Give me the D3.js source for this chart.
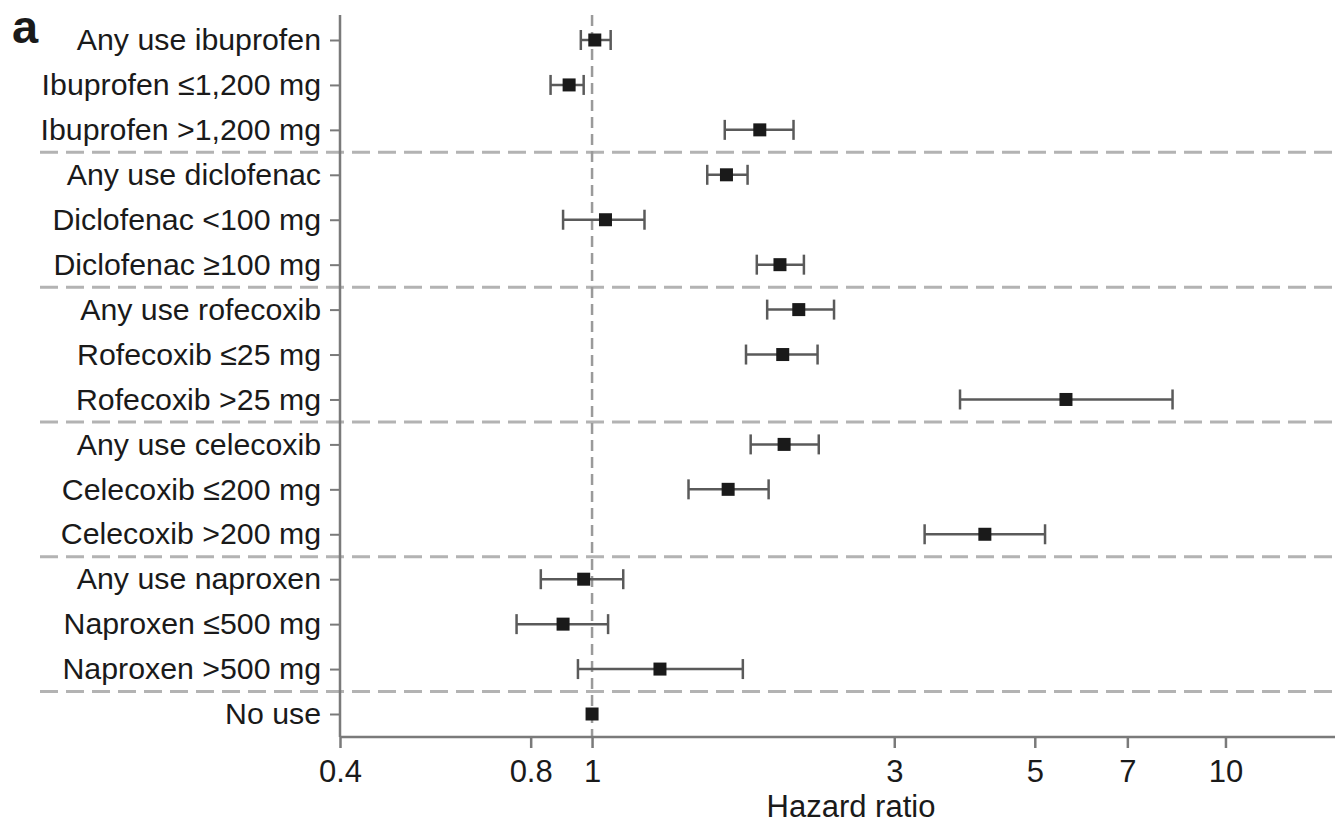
<!DOCTYPE html>
<html>
<head>
<meta charset="utf-8">
<script src="https://cdn.jsdelivr.net/npm/d3@7"></script>
<style>
  body { margin: 0; background: #fff; }
  svg { font-family: "Liberation Sans", Arial, Helvetica, sans-serif; }
</style>
</head>
<body>
<div id="chart"></div>
<script>
// rows, top to bottom
const labels = [
  "Any use ibuprofen", "Ibuprofen \u22641,200 mg", "Ibuprofen >1,200 mg",
  "Any use diclofenac", "Diclofenac <100 mg", "Diclofenac \u2265100 mg",
  "Any use rofecoxib", "Rofecoxib \u226425 mg", "Rofecoxib >25 mg",
  "Any use celecoxib", "Celecoxib \u2264200 mg", "Celecoxib >200 mg",
  "Any use naproxen", "Naproxen \u2264500 mg", "Naproxen >500 mg",
  "No use"
];
const groups = [
  "ibuprofen", "ibuprofen", "ibuprofen",
  "diclofenac", "diclofenac", "diclofenac",
  "rofecoxib", "rofecoxib", "rofecoxib",
  "celecoxib", "celecoxib", "celecoxib",
  "naproxen", "naproxen", "naproxen",
  "none"
];
const hazard = [1.01, 0.92, 1.84, 1.63, 1.05, 1.98, 2.12, 2.00, 5.60, 2.01, 1.64, 4.17, 0.97, 0.90, 1.28, 1.00];
const lower  = [0.96, 0.86, 1.62, 1.52, 0.90, 1.82, 1.89, 1.75, 3.81, 1.78, 1.42, 3.35, 0.83, 0.76, 0.95, null];
const upper  = [1.07, 0.97, 2.08, 1.76, 1.21, 2.16, 2.41, 2.27, 8.25, 2.28, 1.90, 5.19, 1.12, 1.06, 1.73, null];
const xTicks = [0.4, 0.8, 1, 3, 5, 7, 10];

const rows = labels.map((l, i) => ({ label: l, group: groups[i], hr: hazard[i], lo: lower[i], hi: upper[i] }));

const W = 1335, H = 825;
const svg = d3.select("#chart").append("svg")
  .attr("width", W).attr("height", H);

const x = d3.scaleLog().domain([0.4, 15]).range([340, 1337]);
const y = d3.scalePoint().domain(labels).range([40, 714]);
const axisY = 737;

// group dividers
const breaks = [];
for (let i = 1; i < rows.length; i++) {
  if (rows[i].group !== rows[i - 1].group) breaks.push((y(labels[i - 1]) + y(labels[i])) / 2);
}
svg.selectAll(".divider")
  .data(breaks)
  .join("line")
    .attr("x1", 40).attr("x2", W)
    .attr("y1", d => d).attr("y2", d => d)
    .attr("stroke", "#b3b3b3")
    .attr("stroke-width", 3)
    .attr("stroke-dasharray", "18,8");

// reference line at HR = 1
svg.append("line")
  .attr("x1", x(1)).attr("x2", x(1))
  .attr("y1", 15).attr("y2", axisY)
  .attr("stroke", "#9a9a9a")
  .attr("stroke-width", 2.5)
  .attr("stroke-dasharray", "11,6");

// y axis
const yAxis = svg.append("g")
  .attr("transform", "translate(340,0)")
  .call(d3.axisLeft(y).tickSize(10).tickPadding(9));
yAxis.select(".domain").remove();
yAxis.append("line")
  .attr("x1", 0).attr("x2", 0).attr("y1", 15).attr("y2", axisY)
  .attr("stroke", "#7a7a7a").attr("stroke-width", 2.5);
yAxis.selectAll(".tick line").attr("stroke", "#7a7a7a").attr("stroke-width", 2);
yAxis.selectAll("text")
  .attr("fill", "#1a1a1a")
  .style("font-size", "30.3px");

// x axis
const xAxis = svg.append("g")
  .attr("transform", `translate(0,${axisY})`)
  .call(d3.axisBottom(x).tickValues(xTicks).tickFormat(d3.format("")).tickSize(11).tickPadding(12));
xAxis.select(".domain").remove();
xAxis.append("line")
  .attr("x1", 340).attr("x2", W).attr("y1", 0).attr("y2", 0)
  .attr("stroke", "#7a7a7a").attr("stroke-width", 2.5);
xAxis.selectAll(".tick line").attr("stroke", "#7a7a7a").attr("stroke-width", 2.5);
xAxis.selectAll("text")
  .attr("fill", "#1a1a1a")
  .style("font-size", "31px");

svg.append("text")
  .attr("x", 851).attr("y", 817)
  .attr("text-anchor", "middle")
  .attr("fill", "#1a1a1a")
  .style("font-size", "31px")
  .text("Hazard ratio");

svg.append("text")
  .attr("x", 12).attr("y", 43)
  .attr("fill", "#1a1a1a")
  .style("font-size", "47px")
  .style("font-weight", "bold")
  .text("a");

// confidence intervals
const ci = rows.filter(d => d.lo != null);
svg.selectAll(".ci")
  .data(ci)
  .join("line")
    .attr("x1", d => x(d.lo)).attr("x2", d => x(d.hi))
    .attr("y1", d => y(d.label)).attr("y2", d => y(d.label))
    .attr("stroke", "#5a5a5a").attr("stroke-width", 2.5);
["lo", "hi"].forEach(k => {
  svg.selectAll(".cap-" + k)
    .data(ci)
    .join("line")
      .attr("x1", d => x(d[k])).attr("x2", d => x(d[k]))
      .attr("y1", d => y(d.label) - 10).attr("y2", d => y(d.label) + 10)
      .attr("stroke", "#5a5a5a").attr("stroke-width", 2.5);
});

// point estimates
const s = 13;
svg.selectAll(".pt")
  .data(rows)
  .join("rect")
    .attr("x", d => x(d.hr) - s / 2)
    .attr("y", d => y(d.label) - s / 2)
    .attr("width", s).attr("height", s)
    .attr("fill", "#1a1a1a");
</script>
</body>
</html>
